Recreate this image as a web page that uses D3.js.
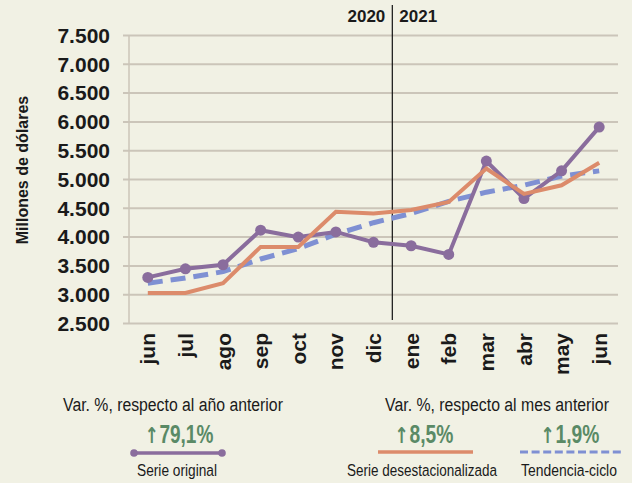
<!DOCTYPE html>
<html>
<head>
<meta charset="utf-8">
<script src="https://cdn.jsdelivr.net/npm/d3@7"></script>
<style>
  body { margin: 0; background: #f1f1e4; }
  svg { display: block; }
</style>
</head>
<body>
<div id="chart"></div>
<script>
// values (millones de dólares)
const months = ["jun", "jul", "ago", "sep", "oct", "nov", "dic", "ene", "feb", "mar", "abr", "may", "jun"];
const original = [3300, 3450, 3520, 4120, 4000, 4090, 3910, 3850, 3700, 5320, 4670, 5150, 5910];
const desest = [3030, 3030, 3200, 3830, 3830, 4440, 4410, 4470, 4610, 5190, 4750, 4900, 5290];
const trend = [3200, 3290, 3400, 3620, 3800, 4050, 4250, 4410, 4620, 4780, 4900, 5060, 5150];
const yTicks = [2500, 3000, 3500, 4000, 4500, 5000, 5500, 6000, 6500, 7000, 7500];
const years = ["2020", "2021"];
const varTitles = ["Var. %, respecto al año anterior", "Var. %, respecto al mes anterior"];
const varValues = ["79,1%", "8,5%", "1,9%"];
const seriesNames = ["Serie original", "Serie desestacionalizada", "Tendencia-ciclo"];

const width = 632;
const height = 483;
const colors = { orig: "#8a6d9d", des: "#dc8b6b", trend: "#7f90d3" };

const svg = d3.select("#chart")
    .append("svg")
    .attr("width", width)
    .attr("height", height)
    .style("font-family", "'Liberation Sans', Arial, sans-serif");

const x = d3.scalePoint()
    .domain(d3.range(months.length))
    .range([129, 618])
    .padding(0.5);

const y = d3.scaleLinear()
    .domain([2500, 7500])
    .range([323.5, 35.5]);

// squeeze a text horizontally so it spans `w` pixels centred on cx
function condense(sel, cx, yy, w) {
    sel.each(function (d, i) {
        const t = d3.select(this).attr("x", 0).attr("y", 0).style("text-anchor", "middle");
        const len = this.getComputedTextLength();
        const c = typeof cx === "function" ? cx(d, i) : cx;
        const ww = typeof w === "function" ? w(d, i) : w;
        t.attr("transform", `translate(${c},${yy}) scale(${ww / len},1)`);
    });
}

// gridlines
svg.append("g")
    .selectAll("line")
    .data(yTicks)
    .enter()
    .append("line")
    .attr("x1", 123)
    .attr("x2", 618)
    .attr("y1", d => y(d))
    .attr("y2", d => y(d))
    .attr("stroke", "#cbc5b9")
    .attr("stroke-width", 2);

svg.append("line")
    .attr("x1", 129).attr("x2", 129)
    .attr("y1", y(7500)).attr("y2", y(2500))
    .attr("stroke", "#cbc5b9")
    .attr("stroke-width", 1.5);

// y axis labels
const yAxis = svg.append("g")
    .attr("transform", "translate(129,0)")
    .call(d3.axisLeft(y)
        .tickValues(yTicks)
        .tickSize(0)
        .tickPadding(19)
        .tickFormat(d => d3.format(",")(d).replace(",", ".")));
yAxis.select(".domain").remove();
yAxis.selectAll("text")
    .attr("fill", "#1a1a1a")
    .style("font-size", "21px")
    .style("font-weight", "bold")
    .style("font-family", "'Liberation Sans', Arial, sans-serif");

// x axis labels (rotated)
svg.append("g")
    .selectAll("text")
    .data(months)
    .enter()
    .append("text")
    .text(d => d)
    .attr("transform", (d, i) => `translate(${x(i)},333) rotate(-90)`)
    .attr("dy", "0.36em")
    .style("text-anchor", "end")
    .style("font-size", "21px")
    .style("font-weight", "bold")
    .attr("fill", "#1a1a1a");

// y title
svg.append("text")
    .text("Millones de dólares")
    .attr("transform", "translate(28,170) rotate(-90)")
    .style("text-anchor", "middle")
    .style("font-size", "16px")
    .style("font-weight", "bold")
    .attr("fill", "#1a1a1a");

// year divider
const divX = (x(6) + x(7)) / 2;
svg.append("line")
    .attr("x1", divX).attr("x2", divX)
    .attr("y1", 5).attr("y2", 320)
    .attr("stroke", "#111")
    .attr("stroke-width", 1.2);

svg.append("text")
    .text(years[0])
    .attr("x", divX - 7)
    .attr("y", 22)
    .style("text-anchor", "end")
    .style("font-size", "17px")
    .style("font-weight", "bold")
    .attr("fill", "#1a1a1a");

svg.append("text")
    .text(years[1])
    .attr("x", divX + 7)
    .attr("y", 22)
    .style("font-size", "17px")
    .style("font-weight", "bold")
    .attr("fill", "#1a1a1a");

// lines
const line = d3.line()
    .x((d, i) => x(i))
    .y(d => y(d));

svg.append("path")
    .datum(trend)
    .attr("d", line)
    .attr("fill", "none")
    .attr("stroke", colors.trend)
    .attr("stroke-width", 5)
    .attr("stroke-dasharray", "15,8");

svg.append("path")
    .datum(original)
    .attr("d", line)
    .attr("fill", "none")
    .attr("stroke", colors.orig)
    .attr("stroke-width", 4);

svg.append("g")
    .selectAll("circle")
    .data(original)
    .enter()
    .append("circle")
    .attr("cx", (d, i) => x(i))
    .attr("cy", d => y(d))
    .attr("r", 5.5)
    .attr("fill", colors.orig);

svg.append("path")
    .datum(desest)
    .attr("d", line)
    .attr("fill", "none")
    .attr("stroke", colors.des)
    .attr("stroke-width", 4);

// legend
const legend = svg.append("g");

legend.selectAll("text.vt")
    .data(varTitles)
    .enter()
    .append("text")
    .attr("class", "vt")
    .text(d => d)
    .style("font-size", "19px")
    .attr("fill", "#1a1a1a")
    .call(condense, (d, i) => [173, 497][i], 411, (d, i) => [220, 224][i]);

const valCx = [179, 424, 570];
const valW = [68, 58, 58];
const vals = legend.selectAll("text.vv")
    .data(varValues)
    .enter()
    .append("text")
    .attr("class", "vv")
    .style("font-size", "25px")
    .style("font-weight", "bold")
    .attr("fill", "#5a8a66");
vals.append("tspan")
    .text("↑")
    .style("font-family", "'DejaVu Sans', sans-serif")
    .style("font-size", "22px");
vals.append("tspan")
    .attr("dx", 1)
    .text(d => d);
vals.call(condense, (d, i) => valCx[i], 443, (d, i) => valW[i]);

legend.selectAll("text.sn")
    .data(seriesNames)
    .enter()
    .append("text")
    .attr("class", "sn")
    .text(d => d)
    .style("font-size", "17px")
    .attr("fill", "#1a1a1a")
    .call(condense, (d, i) => [177, 422, 569][i], 476, (d, i) => [80, 150, 96][i]);

// legend swatches
legend.append("line")
    .attr("x1", 134).attr("x2", 222)
    .attr("y1", 453).attr("y2", 453)
    .attr("stroke", colors.orig)
    .attr("stroke-width", 3.5);
legend.selectAll("circle")
    .data([134, 222])
    .enter()
    .append("circle")
    .attr("cx", d => d)
    .attr("cy", 453)
    .attr("r", 3.8)
    .attr("fill", colors.orig);

legend.append("line")
    .attr("x1", 378).attr("x2", 473)
    .attr("y1", 452).attr("y2", 452)
    .attr("stroke", colors.des)
    .attr("stroke-width", 3.5);

legend.append("line")
    .attr("x1", 520).attr("x2", 624)
    .attr("y1", 452).attr("y2", 452)
    .attr("stroke", colors.trend)
    .attr("stroke-width", 3)
    .attr("stroke-dasharray", "8,3.6");
</script>
</body>
</html>
